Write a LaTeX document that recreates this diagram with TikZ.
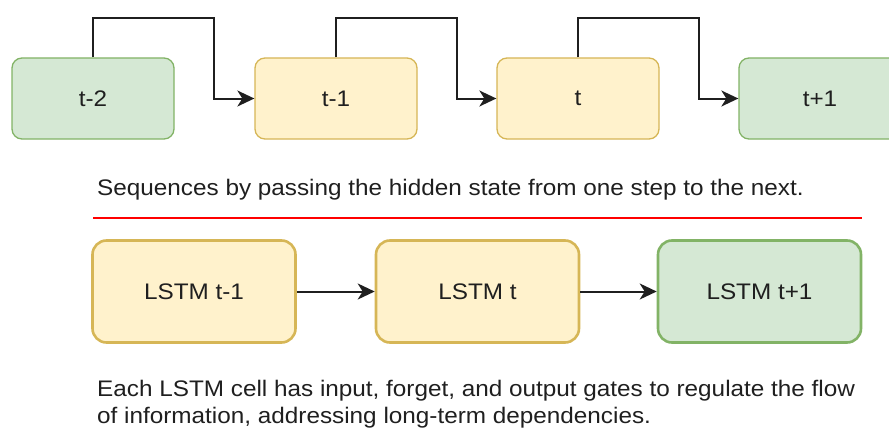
\documentclass[tikz,border=0pt]{standalone}
\usepackage{fontspec}
\setmainfont{Liberation Sans}[FakeStretch=1.08]
\usetikzlibrary{arrows.meta}
\definecolor{gfill}{HTML}{D5E8D4}
\definecolor{gline}{HTML}{82B366}
\definecolor{yfill}{HTML}{FFF2CC}
\definecolor{yline}{HTML}{D6B656}
\definecolor{ink}{HTML}{1F1F1F}
\begin{document}
\begin{tikzpicture}[x=1pt,y=-1pt,
  stepcell/.style={rounded corners=10pt, minimum width=162pt, minimum height=81pt,
    line width=1.3pt, inner sep=0pt, text=ink, font=\fontsize{22.5}{27}\selectfont},
  lstmcell/.style={rounded corners=14pt, minimum width=203pt, minimum height=102pt,
    line width=2.6pt, inner sep=0pt, text=ink, font=\fontsize{22.5}{27}\selectfont},
  greencell/.style={fill=gfill, draw=gline},
  yellowcell/.style={fill=yfill, draw=yline},
  link/.style={draw=ink, line width=2pt, -{Stealth[length=17pt,width=16pt,inset=5pt]}},
  caption/.style={text=ink, inner sep=0pt, font=\fontsize{22.5}{26.5}\selectfont}]
\useasboundingbox (0,0) rectangle (889,428);
\clip (0,0) rectangle (889,428);

% hidden-state chain
\node[stepcell, greencell]  (tm2) at (93,98.5)  {t-2};
\node[stepcell, yellowcell] (tm1) at (336,98.5) {t-1};
\node[stepcell, yellowcell] (t0)  at (578,98.5) {t};
\node[stepcell, greencell]  (tp1) at (820,98.5) {t+1};

\coordinate (b1) at (214,18);
\coordinate (b2) at (457,18);
\coordinate (b3) at (699,18);
\draw[link] (tm2.north) |- (b1) |- (tm1.west);
\draw[link] (tm1.north) |- (b2) |- (t0.west);
\draw[link] (t0.north)  |- (b3) |- (tp1.west);

\node[caption, anchor=base west] (cap1) at (97,195)
  {Sequences by passing the hidden state from one step to the next.};

% separator
\coordinate (sepL) at (93,218);
\coordinate (sepR) at (862,218);
\draw[red, line width=2.6pt] (sepL) -- (sepR);

% LSTM cells
\node[lstmcell, yellowcell] (l1) at (194,291.5)   {LSTM t-1};
\node[lstmcell, yellowcell] (l2) at (477.5,291.5) {LSTM t};
\node[lstmcell, greencell]  (l3) at (759.5,291.5) {LSTM t+1};
\draw[link] (l1.east) -- (l2.west);
\draw[link] (l2.east) -- (l3.west);

\node[caption, anchor=north west, align=left] (cap2) at (97,380)
  {Each LSTM cell has input, forget, and output gates to regulate the flow\\
   of information, addressing long-term dependencies.};
\end{tikzpicture}
\end{document}
